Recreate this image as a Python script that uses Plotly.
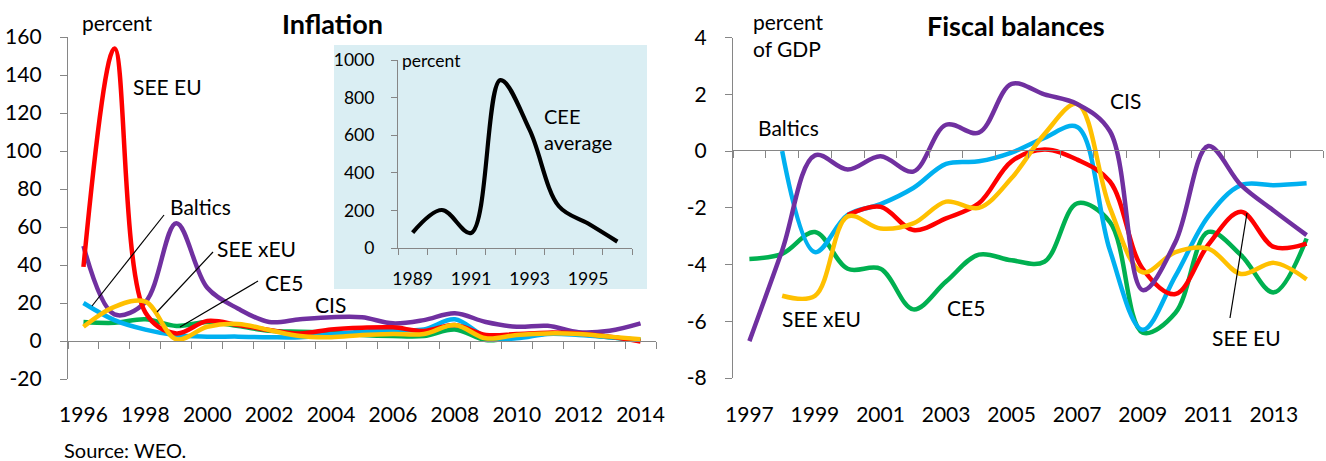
import plotly.graph_objects as go

W, H = 1326, 461

# ---------------- data ----------------
infl_years = list(range(1996, 2015))
infl_see_eu = [39, 154, 15, 4, 10.5, 8.4, 5.8, 4, 6.1, 7, 7.2, 5.3, 8.4, 3.2, 3.7, 4.4, 4, 2.3, -0.3]
infl_cis = [50, 14, 20.5, 62, 28, 17, 10, 11.4, 12.5, 12.5, 9.3, 11, 14.6, 10, 7.5, 8, 4.6, 5.4, 9.3]
infl_baltics = [20, 11, 6, 3, 2.3, 2.3, 2, 2, 3.5, 4.9, 5.8, 6.1, 11.4, 2.3, 1.4, 3.7, 3.2, 2, 0.5]
infl_ce5 = [10, 9.6, 11.4, 7.9, 10, 7.9, 5.4, 4.9, 4.5, 3.2, 2.6, 2.6, 6.1, 0.5, 2, 4, 3.7, 2, 0.5]
infl_see_xeu = [7.5, 18, 20.7, 0.9, 7.5, 9, 5.8, 2.6, 2, 3.2, 3.7, 3.7, 8.4, 1.4, 3.2, 4, 3.7, 2.3, 0.9]

cee_years = list(range(1989, 1997))
cee_average = [82, 202, 80, 893, 628, 222, 130, 34]

fisc_years = list(range(1997, 2015))
fisc_cis = [-6.7, -3.5, -0.15, -0.65, -0.18, -0.72, 0.93, 0.65, 2.37, 2.0, 1.66, 0.7, -4.9, -3.2, 0.18, -1.2, -2.1, -2.96]
fisc_baltics = [None, 0.0, -3.56, -2.25, -1.87, -1.3, -0.45, -0.36, -0.05, 0.47, 0.85, -3.5, -6.3, -4.4, -2.3, -1.2, -1.2, -1.13]
fisc_see_eu = [None, None, None, -2.25, -1.96, -2.78, -2.37, -1.84, -0.36, 0.06, -0.3, -1.07, -4.15, -5.04, -3.3, -2.14, -3.38, -3.26]
fisc_see_xeu = [None, -5.1, -5.1, -2.3, -2.73, -2.55, -1.78, -2.0, -0.95, 0.6, 1.66, -2.0, -4.27, -3.56, -3.44, -4.33, -3.94, -4.52]
fisc_ce5 = [-3.8, -3.62, -2.85, -4.15, -4.15, -5.58, -4.6, -3.65, -3.85, -3.9, -1.84, -2.5, -6.4, -5.7, -2.85, -3.67, -4.98, -3.08]

infl_label_years = list(range(1996, 2015, 2))
cee_label_years = [1989, 1991, 1993, 1995]
fisc_label_years = list(range(1997, 2014, 2))
infl_yticks = list(range(-20, 161, 20))
cee_yticks = list(range(0, 1001, 200))
fisc_yticks = list(range(-8, 5, 2))

# ---------------- styles ----------------
C_RED, C_PUR, C_CYA, C_GRN, C_YEL = "#FF0000", "#7030A0", "#00B0F0", "#00B050", "#FFC000"
AX = "#868686"
FONT = "Lato"
FS = 21
LW = 4.5


def px(x):
    return min(1.0, max(0.0, x / W))


def py(y):
    return min(1.0, max(0.0, 1 - y / H))


fig = go.Figure()


def add_line(x, y, color, xa, ya, width=LW):
    fig.add_trace(go.Scatter(x=x, y=y, mode="lines", line=dict(color=color, width=width, shape="spline", smoothing=1.0),
                             xaxis=xa, yaxis=ya, showlegend=False, hoverinfo="skip", connectgaps=False))


def add_label_axis_trace(years, xa, ya):
    # invisible trace so that the label-only overlay axis is created
    fig.add_trace(go.Scatter(x=years, y=[None] * len(years), mode="lines", xaxis=xa, yaxis=ya,
                             showlegend=False, hoverinfo="skip"))


# left chart
for ser, col in [(infl_ce5, C_GRN), (infl_baltics, C_CYA), (infl_cis, C_PUR), (infl_see_eu, C_RED), (infl_see_xeu, C_YEL)]:
    add_line(infl_years, ser, col, "x", "y")
# inset
add_line(cee_years, cee_average, "#000000", "x2", "y2", width=4.2)
# right chart
for ser, col in [(fisc_ce5, C_GRN), (fisc_baltics, C_CYA), (fisc_see_eu, C_RED), (fisc_see_xeu, C_YEL), (fisc_cis, C_PUR)]:
    add_line(fisc_years, ser, col, "x3", "y3")

add_label_axis_trace(infl_label_years, "x4", "y")
add_label_axis_trace(cee_label_years, "x5", "y2")
add_label_axis_trace(fisc_label_years, "x6", "y3")

tickfont = dict(family=FONT, size=FS, color="black")
insetfont = dict(family=FONT, size=17.5, color="black")


def bounds(years):
    return [y - 0.5 for y in years] + [years[-1] + 0.5]


def ylab(vals):
    return dict(tickmode="array", tickvals=vals, ticktext=[str(v) for v in vals])


common_y = dict(showgrid=False, zeroline=False, showline=True, linecolor=AX, linewidth=1.3, automargin=False,
                ticks="outside", ticklen=7, tickcolor=AX, tickwidth=1.3)
common_xt = dict(showgrid=False, zeroline=False, showline=True, linecolor=AX, linewidth=1.3, automargin=False,
                 ticks="outside", ticklen=7, tickcolor=AX, tickwidth=1.3, showticklabels=False, tickmode="array")
common_xl = dict(showgrid=False, zeroline=False, showline=False, ticks="", tickmode="array", anchor="free",
                 automargin=False)

fig.update_layout(
    template="none",
    width=W, height=H, margin=dict(l=0, r=0, t=0, b=0, pad=0), autosize=False,
    paper_bgcolor="white", plot_bgcolor="rgba(0,0,0,0)",
    font=dict(family=FONT, size=FS, color="black"),
    # left main
    xaxis=dict(domain=[px(68), px(656)], range=[1995.5, 2014.5], tickvals=bounds(infl_years),
               anchor="free", position=py(341), **common_xt),
    yaxis=dict(domain=[py(379), py(37)], range=[-20, 160], anchor="x",
               tickfont=tickfont, ticklabelstandoff=14, **ylab(infl_yticks), **common_y),
    xaxis4=dict(overlaying="x", range=[1995.5, 2014.5], tickvals=infl_label_years,
                ticktext=[str(v) for v in infl_label_years], position=py(400), tickfont=tickfont, **common_xl),
    # inset
    xaxis2=dict(domain=[px(398), px(632)], range=[1988.5, 1996.5], tickvals=bounds(cee_years),
                anchor="y2", **dict(common_xt, ticklen=6)),
    yaxis2=dict(domain=[py(248), py(60)], range=[0, 1000], anchor="x2",
                tickfont=insetfont, ticklabelstandoff=13, **ylab(cee_yticks), **dict(common_y, ticklen=6)),
    xaxis5=dict(overlaying="x2", range=[1988.5, 1996.5], tickvals=cee_label_years,
                ticktext=[str(v) for v in cee_label_years], position=py(266), tickfont=insetfont, **common_xl),
    # right
    xaxis3=dict(domain=[px(733), px(1323)], range=[1996.5, 2014.5], tickvals=bounds(fisc_years),
                anchor="free", position=py(150), **common_xt),
    yaxis3=dict(domain=[py(378), py(37.7)], range=[-8, 4], anchor="x3",
                tickfont=tickfont, ticklabelstandoff=14, **ylab(fisc_yticks), **common_y),
    xaxis6=dict(overlaying="x3", range=[1996.5, 2014.5], tickvals=fisc_label_years,
                ticktext=[str(v) for v in fisc_label_years], position=py(400), tickfont=tickfont, **common_xl),
)

# inset background
fig.add_shape(type="rect", xref="paper", yref="paper", x0=px(334), x1=px(647), y0=py(289), y1=py(45),
              fillcolor="#DAEEF3", line=dict(width=0), layer="below")

# leader lines
for (x0, y0, x1, y1) in [(164, 215, 92, 306), (213, 252, 157, 312), (258, 281, 180, 327), (1230, 318, 1247, 213)]:
    fig.add_shape(type="line", xref="paper", yref="paper", x0=px(x0), y0=py(y0), x1=px(x1), y1=py(y1),
                  line=dict(color="black", width=1.2))


def text(t, x, y, size=FS, xanchor="center", align="center"):
    fig.add_annotation(text=t, x=px(x), y=py(y), xref="paper", yref="paper", showarrow=False,
                       xanchor=xanchor, yanchor="middle", align=align,
                       font=dict(family=FONT, size=size, color="black"))


text("percent", 117, 22)
text("<b>Inflation</b>", 332, 24, size=27)
text("SEE EU", 167, 87)
text("Baltics", 200, 206)
text("SEE xEU", 256, 249)
text("CE5", 284, 282)
text("CIS", 330, 304)
text("Source: WEO.", 62, 450, size=20, xanchor="left")
text("percent", 400, 61, size=17.5, xanchor="left")
text("CEE<br>average", 542, 129, size=20, xanchor="left", align="left")
text("percent<br>of GDP", 751, 35, xanchor="left", align="left")
text("<b>Fiscal balances</b>", 1016, 25, size=27)
text("Baltics", 788, 128)
text("SEE xEU", 821, 318)
text("CE5", 966, 307)
text("CIS", 1125, 100)
text("SEE EU", 1246, 337)

# pin the plot to the page's top-left corner so it fills the window exactly
pin = ("document.documentElement.style.margin='0';document.body.style.margin='0';"
       "document.body.style.overflow='hidden';var gd=document.getElementById('{plot_id}');"
       "gd.style.position='fixed';gd.style.left='0px';gd.style.top='0px';")

fig.write_html("out.html", config={"displayModeBar": False}, post_script=pin)
